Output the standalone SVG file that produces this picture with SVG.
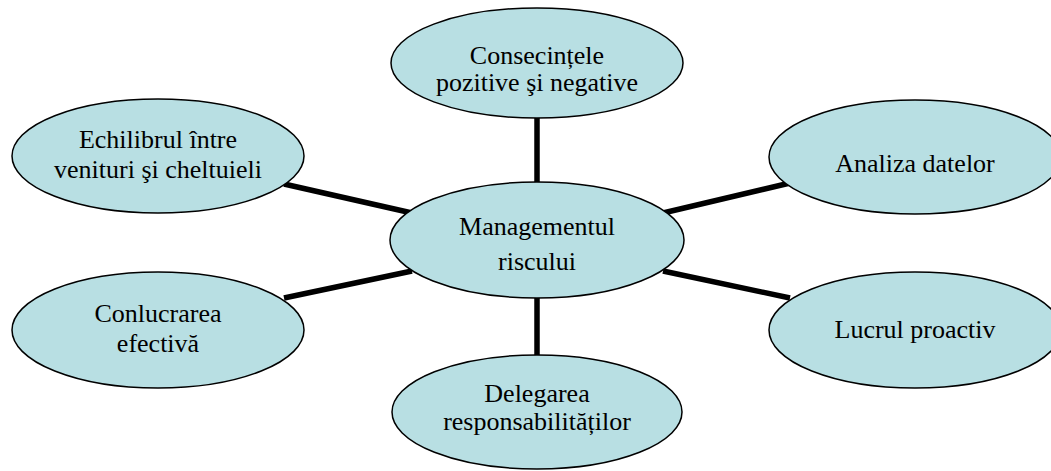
<svg xmlns="http://www.w3.org/2000/svg" width="1051" height="471" viewBox="0 0 1051 471">
<style>
.n ellipse{fill:#b8dfe3;stroke:#000;stroke-width:1.5}
.n text{font-family:'Liberation Serif','Times New Roman',serif;font-size:26px;fill:#000;text-anchor:middle}
#connectors line{stroke:#000;stroke-width:5.5}
</style>
<rect width="1051" height="471" fill="#fff"/>
<g id="connectors">
<line x1="537" y1="115" x2="537" y2="185"/>
<line x1="537" y1="296" x2="537" y2="357"/>
<line x1="284" y1="184" x2="412" y2="213"/>
<line x1="663" y1="213" x2="790" y2="183"/>
<line x1="284" y1="298" x2="412" y2="271"/>
<line x1="663" y1="271" x2="790" y2="298"/>
</g>
<g id="n-top" class="n" font-family="Liberation Serif, serif">
<ellipse cx="537" cy="63" rx="146" ry="55"/>
<text x="537" y="64">Consecințele</text>
<text x="537" y="91">pozitive şi negative</text>
</g>
<g id="n-echilibrul" class="n">
<ellipse cx="158" cy="156" rx="146" ry="57"/>
<text x="158" y="148">Echilibrul între</text>
<text x="158" y="178">venituri şi cheltuieli</text>
</g>
<g id="n-analiza" class="n">
<ellipse cx="915" cy="157" rx="146" ry="57"/>
<text x="915" y="172">Analiza datelor</text>
</g>
<g id="n-center" class="n">
<ellipse cx="537" cy="240" rx="147" ry="58"/>
<text x="537" y="235">Managementul</text>
<text x="537" y="270">riscului</text>
</g>
<g id="n-conlucrarea" class="n">
<ellipse cx="158" cy="330" rx="146" ry="58"/>
<text x="158" y="322">Conlucrarea</text>
<text x="158" y="352">efectivă</text>
</g>
<g id="n-lucrul" class="n">
<ellipse cx="915" cy="330" rx="146" ry="58"/>
<text x="915" y="338">Lucrul proactiv</text>
</g>
<g id="n-delegarea" class="n">
<ellipse cx="537" cy="412" rx="145" ry="57"/>
<text x="537" y="402">Delegarea</text>
<text x="537" y="430">responsabilităților</text>
</g>
</svg>
